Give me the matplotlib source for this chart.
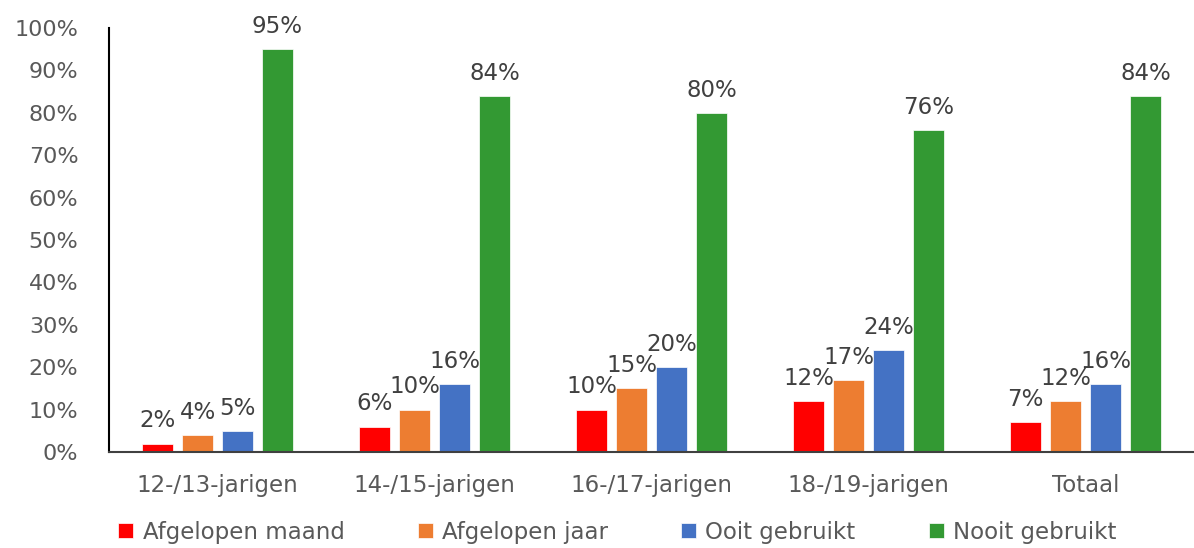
import matplotlib.pyplot as plt
import numpy as np

groups = ["12-/13-jarigen", "14-/15-jarigen", "16-/17-jarigen", "18-/19-jarigen", "Totaal"]
series = ["Afgelopen maand", "Afgelopen jaar", "Ooit gebruikt", "Nooit gebruikt"]
maand = [2, 6, 10, 12, 7]
jaar = [4, 10, 15, 17, 12]
ooit = [5, 16, 20, 24, 16]
nooit = [95, 84, 80, 76, 84]
colors = ["#FF0000", "#ED7D31", "#4472C4", "#339933"]

plt.rcParams["font.family"] = "DejaVu Sans"

fig = plt.figure(figsize=(11.94, 5.48), dpi=100)
ax = fig.add_axes([0.0913, 0.1752, 0.9087, 0.7738])

x = np.arange(len(groups))
w = 0.143
step = 0.184
for i, (vals, c, name) in enumerate(zip([maand, jaar, ooit, nooit], colors, series)):
    bars = ax.bar(x + (i - 1.5) * step, vals, w, color=c, label=name,
                  edgecolor="white", linewidth=0.5)
    ax.bar_label(bars, labels=[f"{v}%" for v in vals], padding=8,
                 fontsize=16.5, color="#404040")

ax.set_xlim(-0.5, 4.5)
ax.set_ylim(0, 100)
ax.set_yticks(range(0, 101, 10))
ax.set_yticklabels([f"{v}%" for v in range(0, 101, 10)])
ax.set_xticks(x)
ax.set_xticklabels(groups)
ax.tick_params(axis="y", length=0, pad=22, labelsize=16, labelcolor="#595959")
ax.tick_params(axis="x", length=0, pad=16, labelsize=16.5, labelcolor="#595959")

for s in ["top", "right"]:
    ax.spines[s].set_visible(False)
ax.spines["left"].set_color("black")
ax.spines["left"].set_linewidth(1.5)
ax.spines["bottom"].set_color("#404040")
ax.spines["bottom"].set_linewidth(1.5)

fig.legend(loc="lower center", bbox_to_anchor=(0.517, -0.03), ncol=4, frameon=False,
           fontsize=16.5, labelcolor="#595959", handlelength=0.65, handleheight=0.65,
           handletextpad=0.4, columnspacing=3.2)

fig.savefig("out.png", dpi=100)
